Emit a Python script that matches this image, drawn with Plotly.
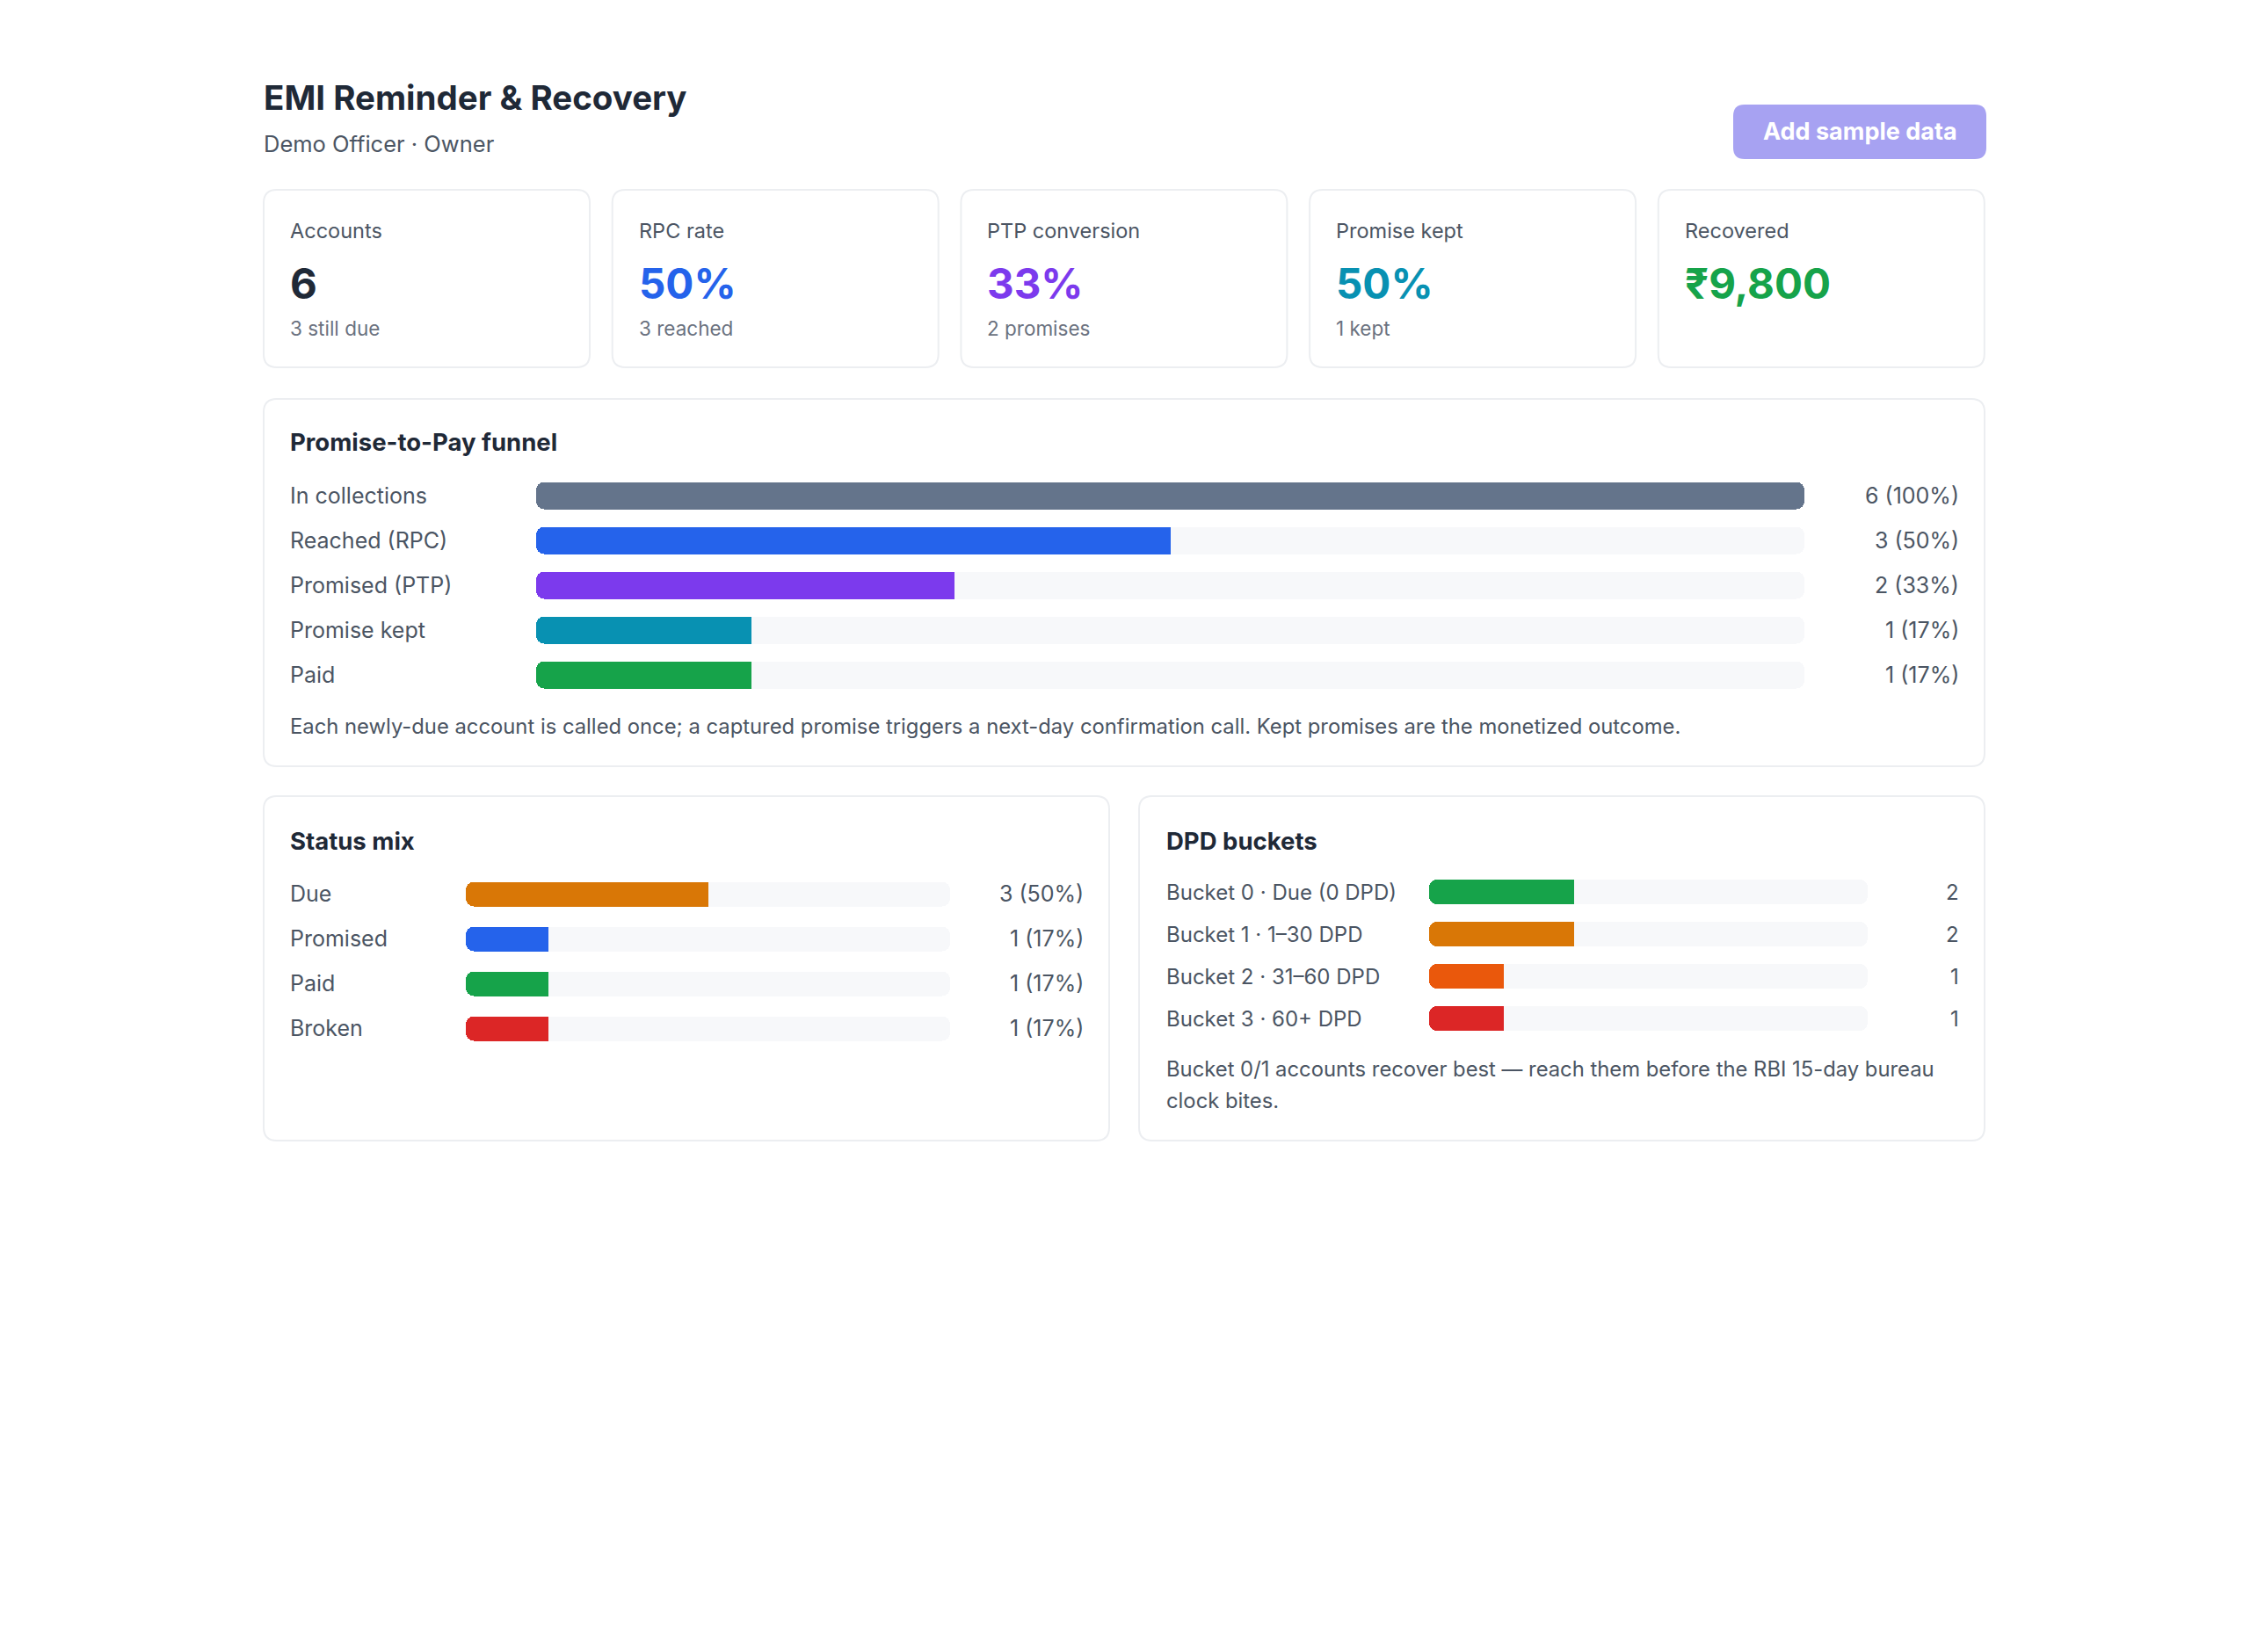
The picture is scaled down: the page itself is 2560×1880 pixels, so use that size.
import plotly.graph_objects as go

# ---------------- data ----------------
page_title = "EMI Reminder & Recovery"
page_subtitle = "Demo Officer · Owner"
button_text = "Add sample data"

kpi_labels = ["Accounts", "RPC rate", "PTP conversion", "Promise kept", "Recovered"]
kpi_values = ["6", "50%", "33%", "50%", "₹9,800"]
kpi_subs = ["3 still due", "3 reached", "2 promises", "1 kept", ""]

total_accounts = 6

funnel_title = "Promise-to-Pay funnel"
funnel_stages = ["In collections", "Reached (RPC)", "Promised (PTP)", "Promise kept", "Paid"]
funnel_counts = [6, 3, 2, 1, 1]
funnel_note = ("Each newly-due account is called once; a captured promise triggers a next-day "
               "confirmation call. Kept promises are the monetized outcome.")

status_title = "Status mix"
status_names = ["Due", "Promised", "Paid", "Broken"]
status_counts = [3, 1, 1, 1]

dpd_title = "DPD buckets"
dpd_names = ["Bucket 0 · Due (0 DPD)", "Bucket 1 · 1–30 DPD", "Bucket 2 · 31–60 DPD", "Bucket 3 · 60+ DPD"]
dpd_counts = [2, 2, 1, 1]
dpd_note_lines = ["Bucket 0/1 accounts recover best — reach them before the RBI 15-day bureau",
                  "clock bites."]

# ---------------- styling ----------------
W, H = 2560, 1880
FONT = "Inter, Roboto, 'Noto Sans', sans-serif"
DARK = "#1f2937"
GRAY = "#4b5563"
MUTED = "#6b7280"
TRACK = "#f7f8fa"
BORDER = "#eceef1"

kpi_colors = [DARK, "#2563eb", "#7c3aed", "#0891b2", "#16a34a"]
funnel_colors = ["#64748b", "#2563eb", "#7c3aed", "#0891b2", "#16a34a"]
status_colors = ["#d97706", "#2563eb", "#16a34a", "#dc2626"]
dpd_colors = ["#16a34a", "#d97706", "#ea580c", "#dc2626"]


def px(x):
    return x / W


def py(y):
    return 1 - y / H


def rounded_rect(x0, y0, x1, y1, r):
    pts = [
        ("M", (x0 + r, y0)), ("L", (x1 - r, y0)), ("Q", (x1, y0), (x1, y0 + r)),
        ("L", (x1, y1 - r)), ("Q", (x1, y1), (x1 - r, y1)),
        ("L", (x0 + r, y1)), ("Q", (x0, y1), (x0, y1 - r)),
        ("L", (x0, y0 + r)), ("Q", (x0, y0), (x0 + r, y0)),
    ]
    out = []
    for item in pts:
        cmd = item[0]
        coords = " ".join(f"{px(a):.6f},{py(b):.6f}" for a, b in item[1:])
        out.append(f"{cmd} {coords}")
    return " ".join(out) + " Z"


shapes = []
annotations = []
DX = -2  # compensate annotation padding


def card(x0, y0, x1, y1):
    shapes.append(dict(type="path", xref="paper", yref="paper", layer="below",
                       path=rounded_rect(x0, y0, x1, y1, 15),
                       fillcolor="white", line=dict(color=BORDER, width=2)))


def text(x, y, s, size, color, bold=False, anchor="left", yref="paper"):
    dx = DX if anchor == "left" else (-DX if anchor == "right" else 0)
    annotations.append(dict(
        x=px(x + dx), y=(py(y) if yref == "paper" else y), xref="paper", yref=yref,
        text=(f"<b>{s}</b>" if bold else s), showarrow=False,
        xanchor=anchor, yanchor="middle",
        font=dict(family=FONT, size=size, color=color)))


# header
text(300, 111, page_title, 38.5, DARK, bold=True)
text(300, 163, page_subtitle, 25.5, GRAY)
shapes.append(dict(type="path", xref="paper", yref="paper", layer="below",
                   path=rounded_rect(1972, 119, 2260, 181, 13),
                   fillcolor="#a7a2f2", line=dict(width=0)))
text(2116, 150, button_text, 27, "white", bold=True, anchor="center")

# KPI cards
card_w, card_step = 371, 396.7
for i, (lab, val, sub, col) in enumerate(zip(kpi_labels, kpi_values, kpi_subs, kpi_colors)):
    x0 = 300 + i * card_step
    card(x0, 216, x0 + card_w, 418)
    text(x0 + 30, 263, lab, 23.5, GRAY)
    text(x0 + 30, 322, val, 47.5, col, bold=True)
    if sub:
        text(x0 + 30, 373, sub, 22.5, MUTED)

# Panel cards
card(300, 454, 2258, 872)
card(300, 906, 1262, 1298)
card(1296, 906, 2258, 1298)
text(330, 503, funnel_title, 27.5, DARK, bold=True)
text(330, 826, funnel_note, 23.8, GRAY)
text(330, 957, status_title, 27.5, DARK, bold=True)
text(1327, 957, dpd_title, 27.5, DARK, bold=True)
text(1327, 1216, dpd_note_lines[0], 23.8, GRAY)
text(1327, 1252, dpd_note_lines[1], 23.8, GRAY)

fig = go.Figure()
layout_axes = {}


def pct_of_total(c):
    return round(100 * c / total_accounts)


def panel(idx, names, counts, colors, x0, x1, ytop, ybot, barfrac, radius,
          label_x, value_x, label_size, value_fmt):
    n = len(names)
    maxv = 100
    widths = [pct_of_total(c) for c in counts]  # bar widths use the rounded share
    xa = "x" if idx == 1 else f"x{idx}"
    ya = "y" if idx == 1 else f"y{idx}"
    xk = "xaxis" if idx == 1 else f"xaxis{idx}"
    yk = "yaxis" if idx == 1 else f"yaxis{idx}"
    layout_axes[xk] = dict(domain=[px(x0), px(x1)], range=[0, maxv], visible=False,
                           fixedrange=True, anchor=ya)
    layout_axes[yk] = dict(domain=[py(ybot), py(ytop)], range=[n - 0.5, -0.5], type="category",
                           categoryorder="array", categoryarray=names, visible=False,
                           fixedrange=True, anchor=xa)
    common = dict(y=names, orientation="h", width=barfrac, xaxis=xa, yaxis=ya,
                  hoverinfo="skip", showlegend=False)
    lo, hi = maxv * 0.45, maxv * 0.55
    # track: two halves, rounded at each outer end
    fig.add_trace(go.Bar(x=[-hi] * n, base=[hi] * n,
                         marker=dict(color=TRACK, cornerradius=radius, line=dict(width=0)), **common))
    fig.add_trace(go.Bar(x=[maxv - lo] * n, base=[lo] * n,
                         marker=dict(color=TRACK, cornerradius=radius, line=dict(width=0)), **common))
    # fill: rounded bar from value back to 0
    fig.add_trace(go.Bar(x=[-w for w in widths], base=widths,
                         marker=dict(color=colors, cornerradius=radius, line=dict(width=0)), **common))
    # square right end for fills that stop before the end of the track
    sq = [(w * 0.5) if w < maxv else None for w in widths]
    fig.add_trace(go.Bar(x=sq, base=sq,
                         marker=dict(color=colors, cornerradius=0, line=dict(width=0)), **common))
    for name, c in zip(names, counts):
        text(label_x, name, name, label_size, GRAY, yref=ya)
        text(value_x, name, value_fmt(c), label_size, GRAY, anchor="right", yref=ya)


def pct_label(c):
    return f"{c} ({pct_of_total(c)}%)"


panel(1, funnel_stages, funnel_counts, funnel_colors,
      610, 2053, 538.5, 793.5, 31 / 51, 9, 330, 2229, 25, pct_label)
panel(2, status_names, status_counts, status_colors,
      530, 1081, 991.5, 1195.5, 28 / 51, 9, 330, 1233, 25, pct_label)
panel(3, dpd_names, dpd_counts, dpd_colors,
      1626, 2125, 991, 1183, 28 / 48, 9, 1327, 2229, 24, lambda c: f"{c}")

fig.update_layout(
    width=W, height=H, margin=dict(l=0, r=0, t=0, b=0, pad=0),
    paper_bgcolor="white", plot_bgcolor="rgba(0,0,0,0)",
    barmode="overlay", bargap=0, hovermode=False, showlegend=False,
    shapes=shapes, annotations=annotations,
    font=dict(family=FONT),
    **layout_axes,
)

fig.write_html("out.html", config={"displayModeBar": False})
